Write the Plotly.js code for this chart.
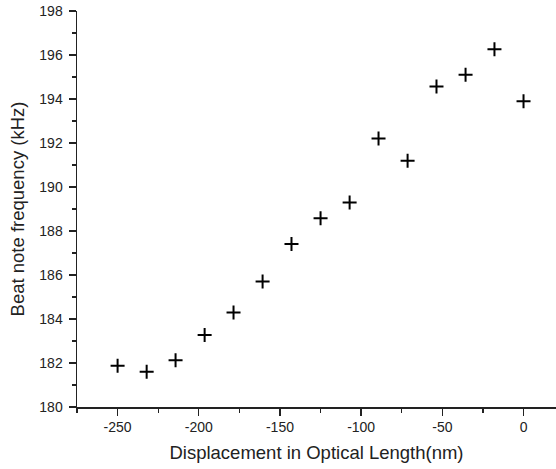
<!DOCTYPE html>
<html>
<head>
<meta charset="utf-8">
<script src="https://cdn.plot.ly/plotly-3.0.1.min.js"></script>
<style>
  html, body { margin: 0; padding: 0; background: #fff; }
  #chart { width: 556px; height: 469px; }
</style>
</head>
<body>
<div id="chart"></div>
<script>
// Optical path displacement (nm) and measured beat note frequency (kHz)
const displacement = [-250, -232.1, -214.3, -196.4, -178.6, -160.7, -142.9, -125, -107.1, -89.3, -71.4, -53.6, -35.7, -17.9, 0];
const beatFrequency = [181.87, 181.6, 182.12, 183.27, 184.29, 185.7, 187.41, 188.58, 189.29, 192.21, 191.19, 194.57, 195.1, 196.26, 193.9];

const xTicks = [-250, -200, -150, -100, -50, 0];
const yTicks = [180, 182, 184, 186, 188, 190, 192, 194, 196, 198];

const axisColor = '#222';
const labelFont = { family: 'Liberation Sans, Arial, sans-serif', size: 14, color: '#222' };
const titleFont = { family: 'Liberation Sans, Arial, sans-serif', size: 18.5, color: '#222' };

const trace = {
  x: displacement,
  y: beatFrequency,
  type: 'scatter',
  mode: 'markers',
  marker: {
    symbol: 'cross-thin-open',
    size: 10,
    color: '#000',
    line: { color: '#000', width: 2 }
  },
  showlegend: false,
  hoverinfo: 'x+y'
};

const layout = {
  width: 556,
  height: 469,
  margin: { l: 77, r: 0, t: 11, b: 62 },
  paper_bgcolor: '#fff',
  plot_bgcolor: '#fff',
  xaxis: {
    range: [-275, 20],
    tickvals: xTicks,
    ticktext: xTicks.map(String),
    ticks: 'outside',
    ticklen: 7,
    tickwidth: 1.3,
    tickcolor: axisColor,
    showline: true,
    linecolor: axisColor,
    linewidth: 1.5,
    showgrid: false,
    zeroline: false,
    tickfont: labelFont,
    minor: { dtick: 25, tick0: -275, ticks: 'outside', ticklen: 4, tickwidth: 1.3, tickcolor: axisColor, showgrid: false },
    title: { text: 'Displacement in Optical Length(nm)', font: titleFont, standoff: 12 }
  },
  yaxis: {
    range: [180, 198],
    tickvals: yTicks,
    ticktext: yTicks.map(String),
    ticks: 'outside',
    ticklen: 7,
    tickwidth: 1.3,
    tickcolor: axisColor,
    ticklabelstandoff: 3,
    showline: true,
    linecolor: axisColor,
    linewidth: 1.5,
    showgrid: false,
    zeroline: false,
    tickfont: labelFont,
    minor: { dtick: 1, tick0: 180, ticks: 'outside', ticklen: 4, tickwidth: 1.3, tickcolor: axisColor, showgrid: false },
    title: { text: 'Beat note frequency (kHz)', font: titleFont, standoff: 10 }
  }
};

Plotly.newPlot('chart', [trace], layout, { displayModeBar: false, staticPlot: true });
</script>
</body>
</html>
